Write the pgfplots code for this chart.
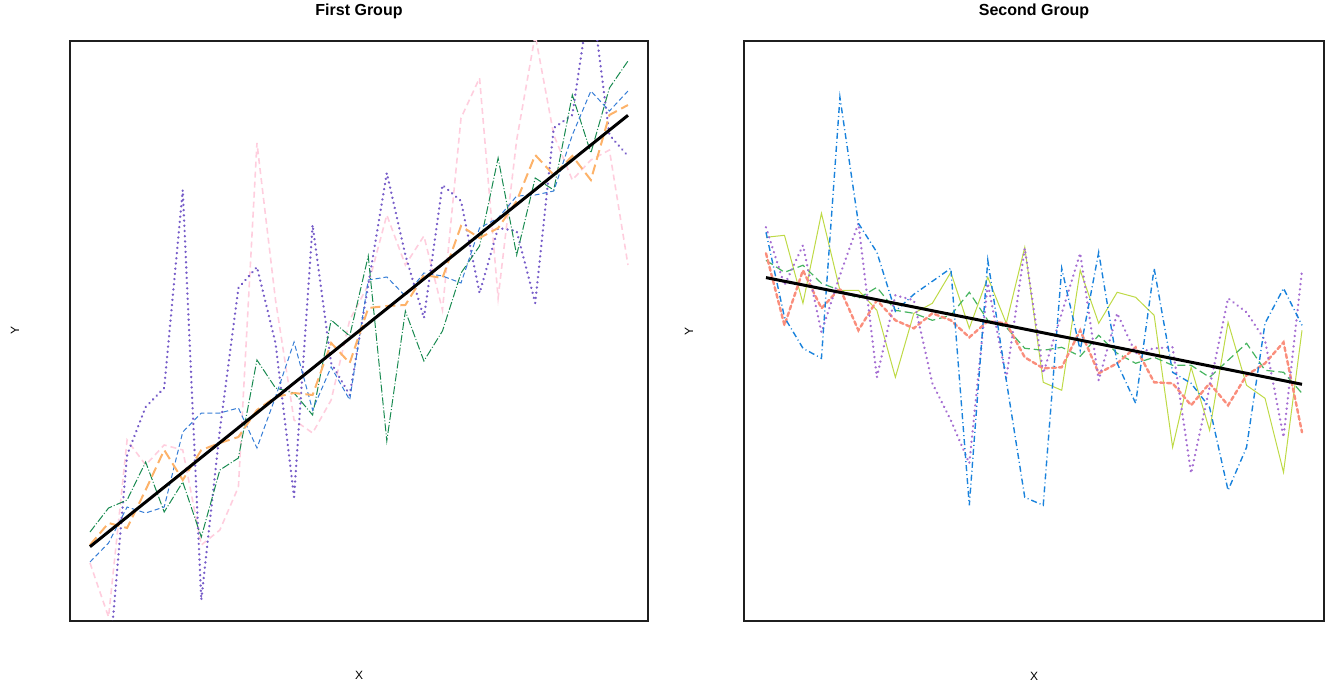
\documentclass[border=0pt]{standalone}
\usepackage{fontspec}
\setmainfont{Liberation Sans}
\usepackage{pgfplots}
\usepackage{pgfplotstable}
\pgfplotsset{compat=1.18}

\definecolor{cOrange}{RGB}{253,178,105}
\definecolor{cBlue1}{RGB}{55,126,214}
\definecolor{cGreen1}{RGB}{24,138,80}
\definecolor{cPurple1}{RGB}{118,92,200}
\definecolor{cPink}{RGB}{255,206,222}
\definecolor{cSalmon}{RGB}{250,142,124}
\definecolor{cGreen2}{RGB}{70,180,95}
\definecolor{cYellow}{RGB}{190,218,70}
\definecolor{cPurple2}{RGB}{165,110,210}
\definecolor{cBlue2}{RGB}{25,130,220}

% Panel 1: i, orange, blue, green, purple, pink  (pixel rows, y axis reversed)
\pgfplotstableread{
i orange blue green purple pink
1 545 562 532 640 563
2 523 543 508 670 617
3 528 507 500 455 440
4 490 513 462 407 465
5 450 507 512 388 445
6 480 432 482 190 450
7 450 413 537 600 545
8 443 413 470 430 530
9 437 408 458 288 487
10 410 448 360 267 143
11 397 397 388 343 300
12 393 342 393 497 420
13 395 410 415 225 433
14 343 367 320 363 400
15 363 400 336 395 320
16 308 280 256 285 285
17 306 277 441 173 215
18 305 296 311 255 265
19 275 273 361 318 236
20 278 276 331 185 310
21 226 283 273 201 118
22 238 228 246 293 78
23 228 218 158 228 298
24 201 196 255 231 140
25 155 195 178 303 35
26 175 191 190 128 135
27 156 135 95 115 180
28 180 91 153 -10 160
29 115 111 88 135 150
30 105 91 61 156 265
}\groupA

% Panel 2: i, salmon, green, yellow, purple, blue
\pgfplotstableread{
i salmon green yellow purple blue
1 253 260 237 227 232
2 325 272 235 285 317
3 270 265 303 245 348
4 308 283 213 332 358
5 288 290 290 275 97
6 330 298 290 223 223
7 300 287 310 377 252
8 320 310 377 295 311
9 328 313 313 300 294
10 313 320 303 383 281
11 320 315 272 420 268
12 337 292 328 463 505
13 321 320 277 283 260
14 323 327 323 378 380
15 357 348 247 248 497
16 368 350 382 373 505
17 367 347 390 313 268
18 330 356 270 253 350
19 373 335 323 380 252
20 363 353 292 313 363
21 347 363 297 353 403
22 382 357 315 348 268
23 383 365 447 347 372
24 405 365 367 473 383
25 383 377 430 387 407
26 405 360 322 298 490
27 375 343 385 312 447
28 363 370 398 340 323
29 342 372 472 437 288
30 432 393 330 270 325
}\groupB

\pgfplotsset{
  every axis title/.style={at={(0.5,1.044)}, anchor=base, font=\fontsize{8}{9}\selectfont\bfseries},
  panel/.style={
    scale only axis, ticks=none,
    ymin=40.7, ymax=620.7, y dir=reverse,
    axis line style={line width=1pt, color=black!88},
    xlabel style={font=\fontsize{6}{7}\selectfont, anchor=center, at={(axis description cs:0.5,-0.095)}},
    ylabel style={font=\fontsize{6}{7}\selectfont, anchor=center, at={(axis description cs:-0.095,0.5)}},
    xlabel=X, ylabel=Y,
  },
  dotline/.style={line width=1.3pt, line cap=round, dash pattern=on 0.01pt off 2.6pt},
}

\begin{document}
\begin{tikzpicture}[x=1pt,y=1pt]
\useasboundingbox (0,0) rectangle (665,345);
\begin{axis}[panel, at={(35pt,34.65pt)}, anchor=south west, width=289pt, height=290pt,
  xmin=-0.078, xmax=31.08, title={First Group}]
\addplot[cPink, line width=0.8pt, dash pattern=on 3pt off 2pt] table[x=i,y=pink]{\groupA};
\addplot[cPurple1, dotline] table[x=i,y=purple]{\groupA};
\addplot[cGreen1, line width=0.5pt, dash pattern=on 4pt off 1pt on 0.5pt off 1pt] table[x=i,y=green]{\groupA};
\addplot[cBlue1, line width=0.5pt, dash pattern=on 2.5pt off 1.5pt] table[x=i,y=blue]{\groupA};
\addplot[cOrange, line width=1pt, dash pattern=on 5pt off 2.5pt] table[x=i,y=orange]{\groupA};
\addplot[black, line width=1.5pt] coordinates {(1,546.7) (30,115.3)};
\end{axis}
\begin{axis}[panel, at={(372pt,34.5pt)}, anchor=south west, width=290pt, height=290pt,
  xmin=-0.19, xmax=31.19, title={Second Group}]
\addplot[cYellow, line width=0.5pt] table[x=i,y=yellow]{\groupB};
\addplot[cGreen2, line width=0.6pt, dash pattern=on 4pt off 2pt] table[x=i,y=green]{\groupB};
\addplot[cSalmon, line width=1.2pt, line cap=round, dash pattern=on 2pt off 1.5pt] table[x=i,y=salmon]{\groupB};
\addplot[cPurple2, dotline] table[x=i,y=purple]{\groupB};
\addplot[cBlue2, line width=0.7pt, dash pattern=on 3pt off 1.5pt on 0.5pt off 1.5pt] table[x=i,y=blue]{\groupB};
\addplot[black, line width=1.5pt] coordinates {(1,277.3) (30,384)};
\end{axis}
\end{tikzpicture}
\end{document}
